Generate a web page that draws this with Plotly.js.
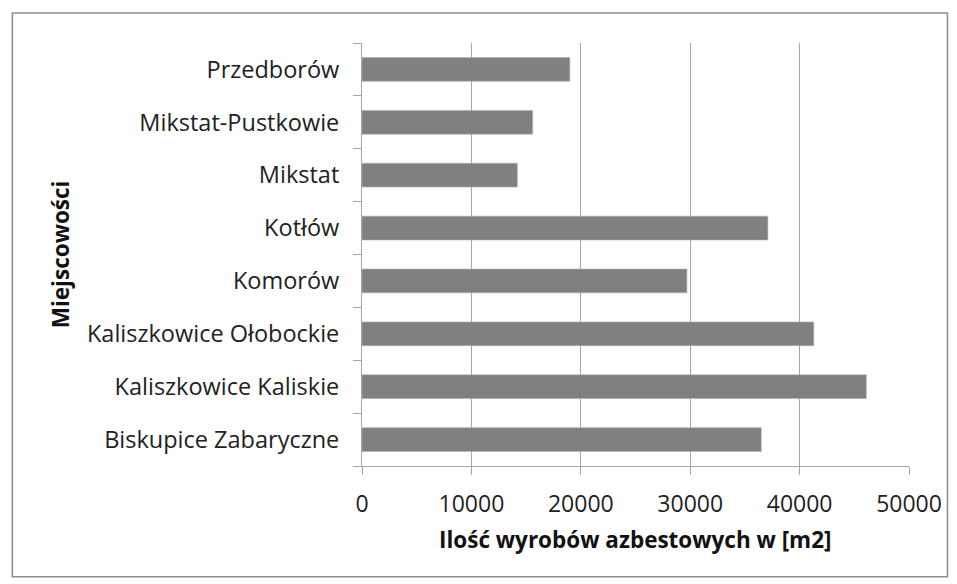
<!DOCTYPE html>
<html>
<head>
<meta charset="utf-8">
<script src="https://cdn.plot.ly/plotly-3.0.1.min.js"></script>
<style>
html,body{margin:0;padding:0;background:#fff;}
#chart{width:957px;height:584px;}
</style>
</head>
<body>
<div id="chart"></div>
<script>
const categories = ["Biskupice Zabaryczne","Kaliszkowice Kaliskie","Kaliszkowice Ołobockie","Komorów","Kotłów","Mikstat","Mikstat-Pustkowie","Przedborów"];
const values = [36500, 46100, 41300, 29700, 37100, 14200, 15600, 19000];
const xTicks = [0, 10000, 20000, 30000, 40000, 50000];
const xTitle = "Ilość wyrobów azbestowych w [m2]";
const yTitle = "Miejscowości";

const font = "Open Sans, Noto Sans, sans-serif";
const titleFont = {family: font, size: 22.5, color: "#111", weight: "bold"};

Plotly.newPlot("chart", [{
  type: "bar",
  orientation: "h",
  y: categories,
  x: values,
  marker: {color: "#808080", line: {color: "#b0b0b0", width: 0.6}},
  hoverinfo: "none"
}], {
  width: 957, height: 584,
  margin: {l: 361.5, r: 48, t: 42.5, b: 117.5},
  paper_bgcolor: "#fff", plot_bgcolor: "#fff",
  bargap: 0.55,
  showlegend: false,
  font: {family: font, size: 23, color: "#222"},
  xaxis: {
    range: [0, 50000], tickmode: "array", tickvals: xTicks, ticktext: xTicks.map(String),
    showgrid: true, gridcolor: "#a6a6a6", gridwidth: 1,
    zeroline: false, showline: true, linecolor: "#a6a6a6", linewidth: 1,
    ticks: "outside", ticklen: 17, tickcolor: "rgba(0,0,0,0)",
    minor: {tickmode: "array", tickvals: xTicks, ticks: "outside", ticklen: 8, tickcolor: "#a6a6a6", showgrid: false},
    tickfont: {family: font, size: 23, color: "#222"}
  },
  yaxis: {
    type: "category", categoryorder: "array", categoryarray: categories,
    showgrid: false, zeroline: false,
    showline: true, linecolor: "#a6a6a6", linewidth: 1,
    ticks: "outside", ticklen: 8, tickcolor: "#a6a6a6", tickson: "boundaries",
    ticklabelstandoff: 17,
    tickfont: {family: font, size: 23.5, color: "#222"}
  },
  annotations: [
    {text: xTitle, xref: "paper", yref: "paper", x: 0.5, y: (466.5 - 540.5) / 424,
     xanchor: "center", yanchor: "middle", showarrow: false, font: titleFont},
    {text: yTitle, xref: "paper", yref: "paper", x: (60 - 361.5) / 547.5, y: 0.5,
     xanchor: "center", yanchor: "middle", textangle: -90, showarrow: false, font: titleFont}
  ],
  shapes: [{
    type: "rect", xref: "paper", yref: "paper",
    x0: (11.5 - 361.5) / 547.5, x1: (947.5 - 361.5) / 547.5,
    y0: (466.5 - 577.5) / 424, y1: (466.5 - 12.5) / 424,
    line: {color: "#8c8c8c", width: 1.5}, fillcolor: "rgba(0,0,0,0)", layer: "below"
  }]
}, {staticPlot: true, displayModeBar: false});
</script>
</body>
</html>
